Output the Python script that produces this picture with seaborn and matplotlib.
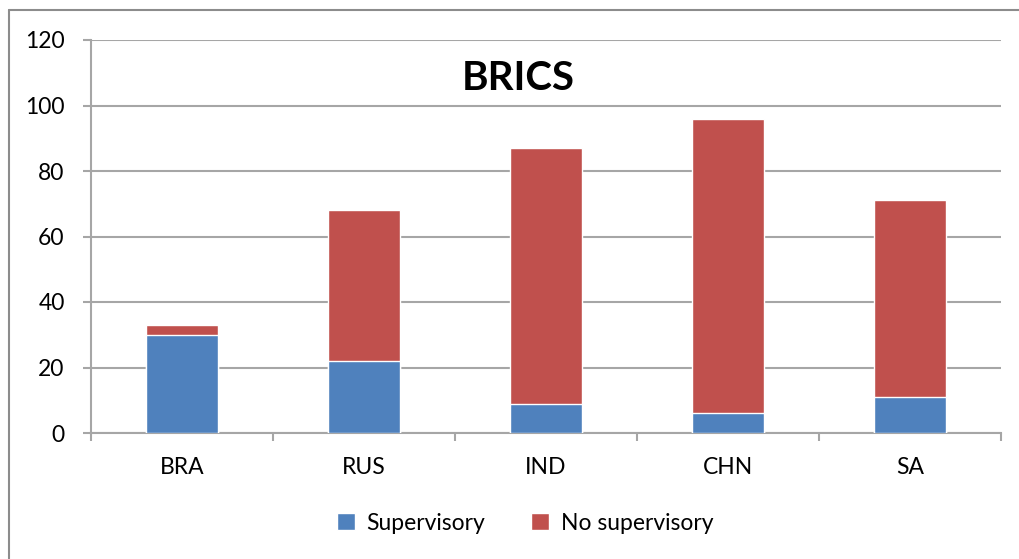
import pandas as pd
import numpy as np
import matplotlib.pyplot as plt
import seaborn as sns
from matplotlib.lines import Line2D
from matplotlib.patches import Patch

# Data
countries = ['BRA', 'RUS', 'IND', 'CHN', 'SA']
supervisory = [30, 22, 9, 6, 11]
no_supervisory = [3, 46, 78, 90, 60]
yticks = [0, 20, 40, 60, 80, 100, 120]

blue = '#4F81BD'
red = '#C0504D'
grid_col = '#A6A6A6'

df = pd.DataFrame({'country': countries,
                   'Supervisory': supervisory,
                   'No supervisory': no_supervisory})
df['total'] = df['Supervisory'] + df['No supervisory']

sns.set_style('white')
plt.rcParams['font.family'] = ['Lato', 'DejaVu Sans']
plt.rcParams['text.color'] = 'black'
plt.rcParams['xtick.labelcolor'] = 'black'
plt.rcParams['ytick.labelcolor'] = 'black'

fig = plt.figure(figsize=(10.19, 5.59), dpi=100)
ax = fig.add_axes([91 / 1019, 1 - 433 / 559, 910 / 1019, 393 / 559])

# stacked bars: total in red, supervisory in blue over it
sns.barplot(data=df, x='country', y='total', color=red, width=0.4,
            saturation=1, ax=ax, zorder=3)
sns.barplot(data=df, x='country', y='Supervisory', color=blue, width=0.4,
            saturation=1, ax=ax, zorder=4)

ax.set_xlim(-0.5, len(countries) - 0.5)
ax.set_ylim(0, 120)
ax.set_yticks(yticks)
ax.set_xlabel('')
ax.set_ylabel('')
ax.yaxis.grid(True, color=grid_col, linewidth=1.5, zorder=0)
ax.set_axisbelow(True)

for s in ['top', 'right']:
    ax.spines[s].set_visible(False)
for s in ['left', 'bottom']:
    ax.spines[s].set_color(grid_col)
    ax.spines[s].set_linewidth(1.5)

ax.tick_params(axis='y', which='major', direction='out', length=6,
               width=1.5, color=grid_col, pad=13, labelsize=16.5,
               left=True, labelcolor='black')
ax.tick_params(axis='x', which='major', length=0, pad=17, labelsize=16.5,
               labelcolor='black')
ax.set_xticks(np.arange(-0.5, len(countries)), minor=True)
ax.tick_params(axis='x', which='minor', direction='out', length=6,
               width=1.5, color=grid_col, bottom=True)

ax.text(0.47, 0.95, 'BRICS', transform=ax.transAxes, ha='center',
        va='top', fontsize=29, fontweight='bold', color='black')

handles = [Patch(facecolor=blue, label='Supervisory'),
           Patch(facecolor=red, label='No supervisory')]
fig.legend(handles=handles, loc='center', ncol=2,
           bbox_to_anchor=(525 / 1019, 1 - 523 / 559), frameon=False,
           fontsize=16.5, handlelength=0.8, handleheight=0.8,
           handletextpad=0.5, columnspacing=2.0, labelcolor='black')

# outer chart frame
fig.add_artist(Line2D([8.5 / 1019, 8.5 / 1019], [0, 1 - 10 / 559],
                      color='#8C8C8C', linewidth=1.5))
fig.add_artist(Line2D([8.5 / 1019, 1], [1 - 10 / 559, 1 - 10 / 559],
                      color='#8C8C8C', linewidth=1.5))

plt.savefig('out.png', dpi=100)
